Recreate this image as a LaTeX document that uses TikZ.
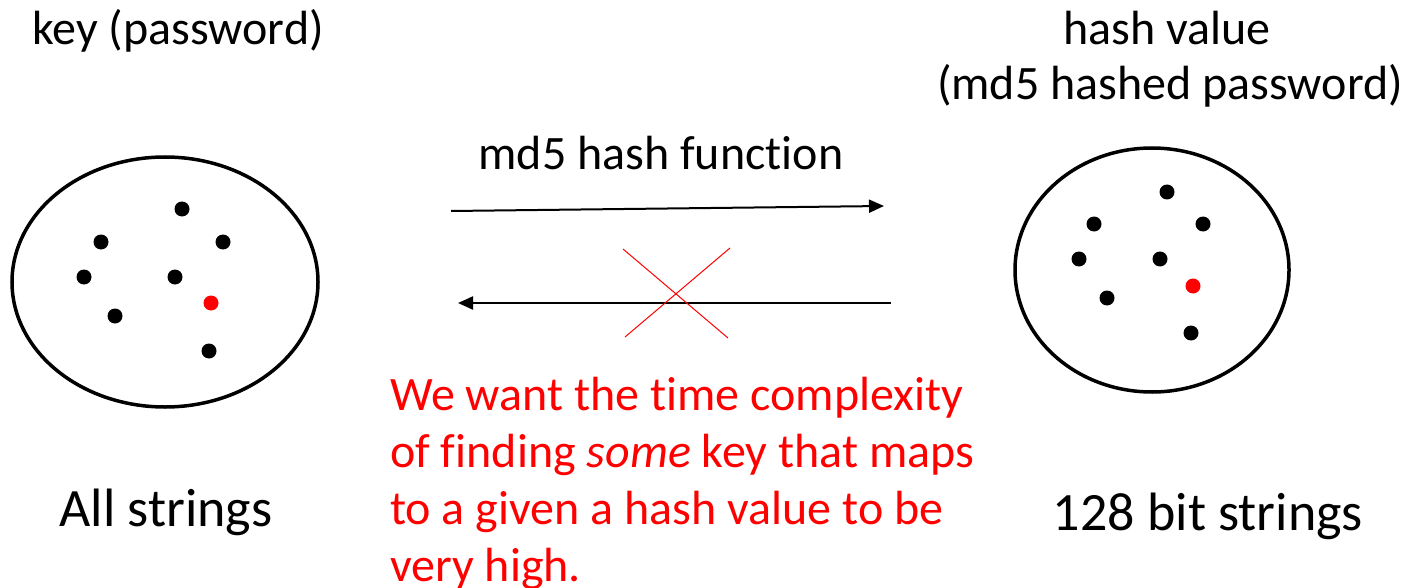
\documentclass[tikz,border=0pt]{standalone}
\usepackage{fontspec}
\setmainfont[Ligatures=NoCommon]{Carlito}
\usetikzlibrary{arrows.meta}
\begin{document}
\begin{tikzpicture}[x=1pt,y=-1pt,
  lbl/.style={font=\fontsize{48}{56}\selectfont, inner sep=0pt, anchor=base},
  biglbl/.style={lbl, font=\fontsize{54}{60}\selectfont},
  setring/.style={draw=black, line width=3.5pt},
  elem/.style={circle, fill=black, inner sep=0pt, minimum size=15pt},
  hit/.style={elem, fill=red},
  maparrow/.style={line width=2pt, -{Triangle[length=15pt,width=13pt]}},
  cross/.style={draw=red, line width=1pt}]
\useasboundingbox (0,0) rectangle (1410,588);
% sets
\draw[setring] (165,282) ellipse [x radius=153, y radius=125];
\draw[setring] (1152,270) ellipse [x radius=137, y radius=122];
% left elements
\node[elem] (l1) at (182,209) {};
\node[elem] (l2) at (101,242) {};
\node[elem] (l3) at (223,242) {};
\node[elem] (l4) at (84,277) {};
\node[elem] (l5) at (175,277) {};
\node[hit]  (l6) at (211,303) {};
\node[elem] (l7) at (115,316) {};
\node[elem] (l8) at (209,351) {};
% right elements
\node[elem] (r1) at (1167,192) {};
\node[elem] (r2) at (1094,224) {};
\node[elem] (r3) at (1203,224) {};
\node[elem] (r4) at (1079,259) {};
\node[elem] (r5) at (1160,259) {};
\node[hit]  (r6) at (1193,286) {};
\node[elem] (r7) at (1107,298) {};
\node[elem] (r8) at (1191,333) {};
% labels
\node[lbl] (keylbl) at (178,45) {key (password)};
\node[lbl] (hashlbl) at (1167,45) {hash value};
\node[lbl] (hashlbl2) at (1170,100) {(md5 hashed password)};
\node[lbl] (fnlbl) at (661,170) {md5 hash function};
\node[biglbl] (alllbl) at (166,526) {All strings};
\node[biglbl] (bitlbl) at (1208,530) {128 bit strings};
\node[font=\fontsize{48}{57}\selectfont, text=red, align=left, anchor=north west, inner sep=0pt] (note) at (390,377)
  {We want the time complexity\\of finding \textit{some} key that maps\\to a given a hash value to be\\very high.};
% arrows
\coordinate (fa) at (451,211);
\coordinate (fb) at (884,206);
\coordinate (ba) at (891,303);
\coordinate (bb) at (458,303);
\draw[maparrow] (fa) -- (fb);
\draw[maparrow] (ba) -- (bb);
% cross
\coordinate (c1) at (623,249);
\coordinate (c2) at (728,338);
\coordinate (c3) at (730,248);
\coordinate (c4) at (625,337);
\draw[cross] (c1) -- (c2);
\draw[cross] (c3) -- (c4);
\end{tikzpicture}
\end{document}
